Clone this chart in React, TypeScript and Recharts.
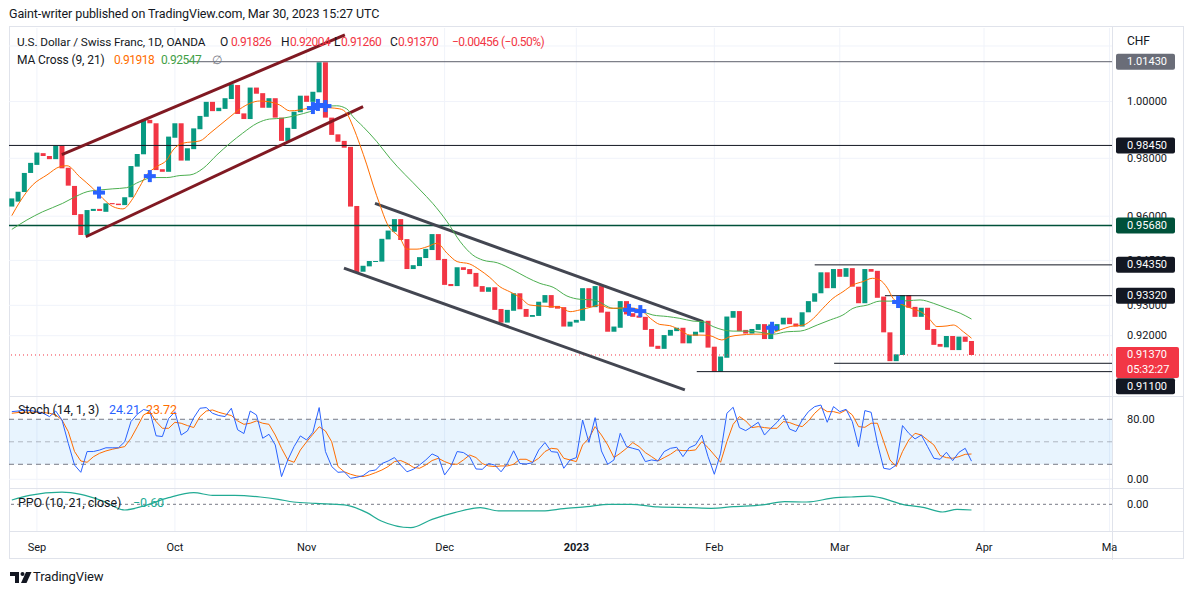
import React from "react";
import {
  ComposedChart,
  Bar,
  Line,
  Scatter,
  XAxis,
  YAxis,
  CartesianGrid,
  ReferenceLine,
  ReferenceArea,
} from "recharts";

// daily USD/CHF bodies, Aug 26 2022 .. Mar 30 2023
const opens = [
  0.9633, 0.965, 0.9683, 0.9749, 0.9777, 0.9818, 0.9808, 0.9797, 0.9844, 0.9767,
  0.9704, 0.9607, 0.9536, 0.9618, 0.9625, 0.9615, 0.9645, 0.9643, 0.9638, 0.9665,
  0.9771, 0.9814, 0.9935, 0.9923, 0.9762, 0.9753, 0.9872, 0.9923, 0.9792, 0.9832,
  0.9902, 0.9946, 0.9999, 0.9966, 0.9974, 1.0009, 1.0059, 0.9958, 0.9938, 1.005,
  1.003, 0.9978, 1.0012, 0.9943, 0.9861, 0.9903, 0.9962, 1.0021, 0.9999, 1.0033,
  1.0141, 0.9943, 0.9884, 0.9861, 0.984, 0.9635, 0.9412, 0.943, 0.9446, 0.9446,
  0.9521, 0.9547, 0.959, 0.9522, 0.9421, 0.9431, 0.9458, 0.9485, 0.9539, 0.9455,
  0.9371, 0.9364, 0.9427, 0.9421, 0.9408, 0.9364, 0.9345, 0.936, 0.9288, 0.9243,
  0.9282, 0.934, 0.9288, 0.9262, 0.9265, 0.9309, 0.9334, 0.9298, 0.9294, 0.923,
  0.9243, 0.9249, 0.9357, 0.9294, 0.9364, 0.9279, 0.9213, 0.9226, 0.9314, 0.9274,
  0.9266, 0.9262, 0.9222, 0.9167, 0.9157, 0.92, 0.9215, 0.9226, 0.9175, 0.92,
  0.9211, 0.9249, 0.9164, 0.9083, 0.9128, 0.9259, 0.9281, 0.9219, 0.9207, 0.9219,
  0.9238, 0.9189, 0.9215, 0.9237, 0.9259, 0.924, 0.923, 0.9277, 0.9312, 0.934,
  0.941, 0.9357, 0.9421, 0.9395, 0.9424, 0.9362, 0.9307, 0.9421, 0.9415, 0.9329,
  0.9211, 0.9117, 0.9137, 0.9334, 0.9295, 0.9262, 0.9292, 0.9222, 0.9173, 0.9162,
  0.9199, 0.9153, 0.9197, 0.91826,
];
const closes = [
  0.9661, 0.9684, 0.9749, 0.9784, 0.982, 0.9808, 0.9797, 0.9844, 0.9765, 0.9705,
  0.9604, 0.9536, 0.9621, 0.9625, 0.9618, 0.9644, 0.9641, 0.9638, 0.9665, 0.9773,
  0.9815, 0.9935, 0.9923, 0.9759, 0.9753, 0.9876, 0.9923, 0.9792, 0.9835, 0.9905,
  0.9949, 0.9999, 0.9966, 0.9978, 1.0012, 1.0062, 0.9956, 0.9938, 1.005, 1.0028,
  0.9978, 1.0012, 0.9943, 0.9861, 0.9907, 0.9964, 1.0021, 0.9999, 1.0035, 1.0141,
  0.9943, 0.9882, 0.9858, 0.9837, 0.9633, 0.941, 0.9432, 0.9448, 0.9448, 0.9523,
  0.9551, 0.959, 0.9519, 0.9421, 0.9434, 0.9461, 0.9489, 0.9539, 0.9451, 0.9368,
  0.9364, 0.9427, 0.9418, 0.9404, 0.9362, 0.9345, 0.936, 0.9285, 0.9243, 0.9285,
  0.934, 0.9287, 0.9262, 0.9268, 0.9312, 0.9334, 0.9292, 0.9289, 0.923, 0.9246,
  0.9252, 0.9357, 0.9294, 0.9364, 0.9276, 0.9213, 0.923, 0.9314, 0.927, 0.9262,
  0.9259, 0.9219, 0.9164, 0.9157, 0.9202, 0.9219, 0.9226, 0.9175, 0.9202, 0.9213,
  0.9249, 0.9161, 0.9083, 0.9132, 0.9263, 0.9281, 0.9215, 0.9207, 0.9222, 0.9238,
  0.9189, 0.9237, 0.9238, 0.9259, 0.9238, 0.923, 0.9277, 0.9314, 0.934, 0.941,
  0.9357, 0.9421, 0.9395, 0.9424, 0.9362, 0.9307, 0.9421, 0.9412, 0.9325, 0.9211,
  0.9117, 0.9139, 0.9334, 0.9292, 0.9262, 0.9292, 0.9219, 0.917, 0.9164, 0.9199,
  0.9153, 0.9197, 0.918, 0.9137,
];

// [bar index, price] read along the two moving averages
const ma9: [number, number][] = [
  [0, 0.9602], [1.3, 0.965], [3.3, 0.9707], [5.6, 0.9742], [7.7, 0.9771], [8.8, 0.9774],
  [10.8, 0.9736], [12.9, 0.9696], [14.5, 0.9661], [16.1, 0.9633], [17.7, 0.9625],
  [19.3, 0.9661], [20.4, 0.9702], [21.5, 0.9742], [23.1, 0.9771], [24.7, 0.9794],
  [25.7, 0.9829], [27.3, 0.9853], [30, 0.9861], [31.6, 0.9888], [33.2, 0.9917],
  [34.8, 0.9946], [36.4, 0.9974], [38, 0.9994], [39.5, 1.0002], [41.1, 0.9999],
  [42.7, 0.9988], [44.3, 0.9967], [45.9, 0.997], [47.2, 0.9976], [48.6, 0.9982],
  [50.7, 0.9978], [52.3, 0.9974], [53.4, 0.9958], [54.4, 0.9911], [55.5, 0.9847],
  [56.6, 0.9777], [57.6, 0.9707], [58.7, 0.9638], [59.8, 0.9576], [61.9, 0.9525],
  [63, 0.9488], [64.6, 0.9488], [66.2, 0.9496], [67.8, 0.9508], [69.4, 0.9474],
  [71, 0.9446], [73, 0.9438], [74.6, 0.9418], [76.2, 0.9393], [77.8, 0.9362],
  [79.4, 0.9345], [81, 0.9327], [82.6, 0.9301], [84.2, 0.9298], [85.8, 0.9296],
  [87.4, 0.9294], [89, 0.9279], [90.6, 0.9285], [92.7, 0.9296], [93.8, 0.9301],
  [95.4, 0.929], [98.1, 0.9292], [100.2, 0.9285], [101.8, 0.9257], [103.3, 0.9237],
  [104.9, 0.9233], [106.5, 0.9219], [108.1, 0.9202], [109.7, 0.9202], [111.3, 0.92],
  [113.2, 0.9186], [114.5, 0.9197], [116.1, 0.9202], [118.2, 0.9205], [120.4, 0.9205],
  [122.5, 0.9219], [124.1, 0.923], [126.2, 0.9235], [127.8, 0.9257], [129.3, 0.929],
  [130.9, 0.9323], [132.5, 0.9345], [134.1, 0.9368], [135.7, 0.9379], [137.2, 0.939],
  [138.4, 0.9384], [139.6, 0.9357], [140.5, 0.9323], [142.1, 0.9301], [143.7, 0.9288],
  [145.3, 0.9274], [146.4, 0.9252], [147.5, 0.923], [149.1, 0.9232], [150.1, 0.9235],
  [151.7, 0.9213], [153, 0.91918],
];
const ma21: [number, number][] = [
  [0, 0.9555], [2.4, 0.9587], [4.9, 0.9615], [8.1, 0.9644], [9.6, 0.9661], [12, 0.9684],
  [14, 0.969], [16.1, 0.9694], [18.3, 0.9698], [20.4, 0.9719], [22.5, 0.9733],
  [24.7, 0.9733], [26.8, 0.974], [28.4, 0.9742], [30.5, 0.9765], [32.7, 0.9812],
  [34.8, 0.9853], [36.8, 0.9888], [39.1, 0.9923], [41.1, 0.9938], [43.2, 0.9941],
  [45.5, 0.9952], [47.5, 0.9964], [49.6, 0.9982], [51.8, 0.9985], [53.4, 0.9974],
  [54.4, 0.9946], [56, 0.9911], [58.2, 0.9858], [60.3, 0.98], [65.1, 0.969],
  [67.1, 0.9644], [69.4, 0.9581], [71.5, 0.9513], [73.5, 0.9468], [75.1, 0.9451],
  [77.4, 0.9442], [79.9, 0.9418], [82.1, 0.9393], [84.2, 0.9373], [86.3, 0.936],
  [88.5, 0.9331], [90.6, 0.932], [92.7, 0.9318], [95.9, 0.929], [98.1, 0.9288],
  [100.2, 0.9281], [102.2, 0.9268], [104.5, 0.9263], [106.5, 0.9257], [108.6, 0.9248],
  [110.2, 0.9246], [111.8, 0.923], [113.4, 0.9219], [115, 0.9215], [117.2, 0.9215],
  [119.3, 0.9211], [121.4, 0.9205], [123.6, 0.9213], [125.7, 0.9215], [128.4, 0.9235],
  [130.5, 0.9252], [132.5, 0.9268], [134.1, 0.929], [136.4, 0.9301], [138.4, 0.9314],
  [140.5, 0.9314], [142.7, 0.9315], [144.8, 0.9318], [146.9, 0.9307], [149.1, 0.929],
  [151.2, 0.9274], [153, 0.92547],
];
const crosses: [number, number][] = [
  [13.9, 0.9681], [22, 0.9738], [48, 0.9977], [48.8, 0.9988], [50, 0.9984],
  [98.4, 0.9285], [100.2, 0.9281], [121.2, 0.9226], [141.3, 0.9311],
];

const stochK = [
  90.2, 91, 92.4, 91.6, 90, 88, 83.6, 91, 79, 48, 19, 9.3, 37, 37, 39, 42, 42, 42, 50, 77,
  86.7, 93, 91, 58, 57, 81, 90, 59, 64.4, 82, 94.7, 95.6, 88, 85, 83.6, 94.7, 66, 61, 91,
  85.8, 54.7, 60, 45.8, 3.6, 25.8, 43.6, 57.8, 52.4, 62.7, 95.6, 37, 17, 9.3, 10, 1.3,
  2.7, 4.9, 11, 12.4, 21, 24.4, 29, 19, 10, 13.3, 19, 25.8, 33.8, 30, 5.8, 17, 37, 35.6,
  30, 13.8, 13.3, 21, 19, 10, 21, 38, 21, 20.4, 22, 39, 49, 36.9, 36, 14.7, 25.8, 28.9,
  79, 49.3, 82.2, 37.8, 20, 25.8, 61.3, 43.6, 41.3, 39.1, 23.6, 25.8, 24.4, 36.9, 41.3,
  42.7, 30.2, 42.2, 45.8, 59, 30.2, 6.7, 34.7, 88, 96, 68.9, 64.9, 70.2, 76, 59, 68, 76,
  85.8, 67, 63.6, 79, 90.2, 96.9, 99, 76, 96.9, 90.2, 93.3, 76.9, 43.6, 91.6, 89.3, 48,
  14.7, 13.3, 19, 71.6, 61.3, 53.8, 59, 43.6, 28, 26.7, 36, 24.9, 36, 41.3, 24.21,
];
const stochD = [
  88, 89, 89.3, 89.3, 89.3, 89, 88, 85.8, 79, 63.6, 37, 24.4, 22.7, 30, 34.7, 37.8, 40,
  41.8, 43.6, 54.7, 70, 85.8, 90, 77, 68, 68, 76, 74.7, 71.6, 69, 83.6, 91, 92.4, 89.3, 87,
  85, 77.8, 73.3, 74.7, 77.8, 74.7, 73.3, 59, 41.3, 25.8, 22.7, 39, 50, 60, 70, 64.4, 50,
  17, 10, 6.7, 4.4, 3.6, 5.8, 8.9, 12.4, 17, 23.6, 25, 21.3, 16, 14.7, 19, 25, 28, 23.6,
  20.4, 20, 25.8, 32.4, 29, 21, 17.8, 17, 17.8, 17.8, 20, 26.7, 26.7, 22.7, 28, 37, 41.3,
  40.4, 28, 25.8, 23.6, 45.8, 54.7, 70.2, 59, 45.8, 28.9, 34.7, 41.3, 48.9, 43.6, 35.6,
  30.2, 24.4, 28.9, 33.3, 39.1, 38.2, 38.2, 39.1, 50.2, 42.2, 32.4, 22.7, 50.2, 73.3,
  83.6, 77.8, 68.9, 70.2, 68.9, 68, 68, 76.9, 75.6, 72.4, 70.2, 77.8, 88, 95.6, 90.2, 90.2,
  88, 92.4, 85.8, 70.2, 69.3, 74.7, 74.7, 50.2, 25.8, 16.9, 36.9, 52.4, 61.3, 59, 52.4,
  45.8, 31.6, 28.9, 28, 30.2, 33.3, 33.72,
];
const ppo: [number, number][] = [
  [0, 0.45], [2.8, 0.94], [8, 1.29], [11, 1.05], [14.5, 0.35], [18, -0.6], [21, -0.18],
  [25, 0.7], [29, 1.22], [32, 0.94], [35.5, 0.94], [39.6, 0.77], [42.5, 0.52], [44.9, 0.24],
  [48.4, 0.1], [53, -0.07], [56.6, -0.88], [58.9, -1.76], [63.6, -2.46], [67, -1.58],
  [70.6, -0.88], [74.7, -0.35], [77.6, -0.7], [84.6, -0.7], [88, -0.46], [91.7, -0.25],
  [95.2, 0], [98.7, 0], [103, -0.28], [108, -0.35], [111.5, -0.42], [115, -0.25],
  [119.7, -0.07], [123.2, 0.28], [126.7, 0.24], [131.4, 0.7], [133.8, 0.77], [136.7, 0.87],
  [138.4, 0.7], [142, 0], [145.5, -0.35], [148.4, -0.81], [150.7, -0.53], [153, -0.6],
];

// drawn horizontal levels: price and the bar they start from
const levelPrices = [1.0143, 0.9845, 0.9568, 0.9435, 0.9332, 0.911, 0.9083];
const levelStarts = [28, -0.45, -0.45, 128, 139.2, 131.1, 109.2];
const lastPrice = 0.9137;
const countdown = "05:32:27";

// channels: [[bar, price], [bar, price]]
const risingChannel: [number, number][][] = [
  [[7.97, 0.9813], [53.1, 1.024]],
  [[11.8, 0.953], [56, 0.9982]],
];
const fallingChannel: [number, number][][] = [
  [[57.9, 0.9644], [110.2, 0.9246]],
  [[52.95, 0.9424], [107.3, 0.9024]],
];

const monthTicks = [4, 26, 47, 69, 90, 112, 132, 155, 175];
const monthLabels = ["Sep", "Oct", "Nov", "Dec", "2023", "Feb", "Mar", "Apr", "Ma"];
const priceGrid = [1.02, 1.0, 0.98, 0.96, 0.945, 0.93, 0.92];
const priceLabels = [1.0, 0.98, 0.96, 0.945, 0.93, 0.92];

const UP = "#089981";
const DOWN = "#f23645";
const TEXT = "#131722";
const FONT = "Roboto, sans-serif";
const W = 1194;
const LEFT = 9;
const AXIS_W = 82;
const X_DOMAIN: [number, number] = [-0.45, 175.4];
const levelColors = ["#6a6d78", "#131722", "#00513a", "#131722", "#131722", "#131722", "#131722"];

const candles = opens.map((o, k) => ({
  i: k,
  body: [Math.min(o, closes[k]), Math.max(o, closes[k])],
  up: closes[k] >= o,
}));
const stochRows = stochK.map((k, j) => ({ i: j, k, d: stochD[j] }));
const toRows = (pts: [number, number][]) => pts.map(([i, v]) => ({ i, v }));

// the library centres each body on its bar; draw it 5px wide around that centre
const Candle = (p: any) => {
  const mid = p.x + p.width / 2;
  return (
    <rect
      x={mid - 2.5}
      y={p.y}
      width={5}
      height={Math.max(p.height, 1)}
      fill={p.payload.up ? UP : DOWN}
    />
  );
};

const CrossMark = (p: any) => (
  <g fill="#2962ff">
    <rect x={p.cx - 6} y={p.cy - 2} width={12} height={4} />
    <rect x={p.cx - 2} y={p.cy - 6} width={4} height={12} />
  </g>
);

const PriceTick = (props: any) => {
  const { x, y, payload } = props;
  const v = payload.value;
  if (Math.abs(v - lastPrice) < 1e-7) {
    return (
      <g fontFamily={FONT} fontSize={11}>
        <rect x={x + 4} y={y - 8} width={63} height={31} rx={2} fill={DOWN} />
        <text x={x + 15} y={y} dominantBaseline="central" fill="#fff">{v.toFixed(5)}</text>
        <text x={x + 15} y={y + 15} dominantBaseline="central" fill="#fff">{countdown}</text>
      </g>
    );
  }
  const li = levelPrices.findIndex((p, k) => k < 6 && Math.abs(p - v) < 1e-7);
  if (li >= 0) {
    const dy = li === 5 ? 23 : 0;
    return (
      <g fontFamily={FONT} fontSize={11}>
        <rect x={x + 4} y={y + dy - 8} width={59} height={16} rx={2} fill={levelColors[li]} />
        <text x={x + 15} y={y + dy} dominantBaseline="central" fill="#fff">{v.toFixed(5)}</text>
      </g>
    );
  }
  return (
    <text x={x + 15} y={y} dominantBaseline="central" fill={TEXT} fontFamily={FONT} fontSize={11}>
      {v.toFixed(5)}
    </text>
  );
};

const PlainTick = (digits: number) => (props: any) => (
  <text
    x={props.x + 15}
    y={props.y}
    dominantBaseline="central"
    fill={TEXT}
    fontFamily={FONT}
    fontSize={11}
  >
    {props.payload.value.toFixed(digits)}
  </text>
);

const DateTick = (props: any) => {
  const k = monthTicks.indexOf(props.payload.value);
  const label = monthLabels[k];
  return (
    <text
      x={props.x}
      y={props.y + 14}
      textAnchor="middle"
      dominantBaseline="central"
      fill={TEXT}
      fontFamily={FONT}
      fontSize={11}
      fontWeight={label === "2023" ? 700 : 400}
    >
      {label}
    </text>
  );
};

const abs = (left: number, top: number): React.CSSProperties => ({
  position: "absolute",
  left,
  top,
});

// one legend text placed at a left offset
const Txt = ({
  x,
  y,
  color = TEXT,
  size = 12.5,
  tight = false,
  children,
}: {
  x: number;
  y: number;
  color?: string;
  size?: number;
  tight?: boolean;
  children: React.ReactNode;
}) => (
  <div
    style={{
      position: "absolute",
      left: x,
      top: y,
      fontFamily: FONT,
      fontSize: size,
      letterSpacing: tight ? -0.5 : -0.1,
      color,
      whiteSpace: "pre",
      lineHeight: "14px",
    }}
  >
    {children}
  </div>
);

export default function App() {
  const xAxis = (
    <XAxis type="number" dataKey="i" domain={X_DOMAIN} allowDataOverflow hide />
  );
  return (
    <div
      style={{
        position: "fixed",
        left: 0,
        top: 0,
        width: W,
        height: 595,
        background: "#fff",
        overflow: "hidden",
      }}
    >
      <Txt x={9} y={7}>Gaint-writer published on TradingView.com, Mar 30, 2023 15:27 UTC</Txt>

      {/* frame and pane separators */}
      <div
        style={{
          position: "absolute",
          left: 9,
          top: 26,
          width: 1175,
          height: 533,
          border: "1px solid #e0e3eb",
          boxSizing: "border-box",
        }}
      />
      <div style={{ ...abs(1112, 26), width: 1, height: 534, background: "#e0e3eb" }} />
      <div style={{ ...abs(9, 396), width: 1175, height: 1, background: "#e0e3eb" }} />
      <div style={{ ...abs(9, 488), width: 1175, height: 1, background: "#e0e3eb" }} />
      <div style={{ ...abs(9, 531), width: 1175, height: 1, background: "#e0e3eb" }} />

      {/* price pane */}
      <div style={abs(0, 28)}>
        <ComposedChart
          width={W}
          height={368}
          data={candles}
          margin={{ top: 0, right: 0, bottom: 0, left: LEFT }}
        >
          <CartesianGrid
            stroke="#f0f3fa"
            horizontalValues={priceGrid}
            verticalValues={monthTicks}
          />
          {xAxis}
          <YAxis
            type="number"
            scale="log"
            domain={[0.90045, 1.02655]}
            allowDataOverflow
            orientation="right"
            width={AXIS_W}
            ticks={[...priceLabels, ...levelPrices.slice(0, 6), lastPrice]}
            interval={0}
            tick={<PriceTick />}
            tickLine={false}
            axisLine={false}
            tickSize={0}
            tickMargin={0}
          />
          {levelPrices.map((p, k) => (
            <ReferenceLine
              key={"lv" + k}
              segment={[
                { x: levelStarts[k], y: p },
                { x: X_DOMAIN[1], y: p },
              ]}
              stroke={k === 2 ? "#00513a" : k === 0 ? "#5d606b" : "#131722"}
              strokeWidth={k === 2 ? 1.5 : 1}
            />
          ))}
          <ReferenceLine
            y={lastPrice}
            stroke={DOWN}
            strokeDasharray="1 3"
            strokeWidth={1}
          />
          {risingChannel.map((seg, k) => (
            <ReferenceLine
              key={"rc" + k}
              segment={seg.map(([x, y]) => ({ x, y }))}
              stroke="#801922"
              strokeWidth={3}
            />
          ))}
          {fallingChannel.map((seg, k) => (
            <ReferenceLine
              key={"fc" + k}
              segment={seg.map(([x, y]) => ({ x, y }))}
              stroke="#434651"
              strokeWidth={3}
            />
          ))}
          <Bar dataKey="body" barSize={5} shape={Candle} isAnimationActive={false} />
          <Line
            data={toRows(ma21)}
            dataKey="v"
            type="monotone"
            stroke="#4caf50"
            strokeWidth={1}
            dot={false}
            isAnimationActive={false}
          />
          <Line
            data={toRows(ma9)}
            dataKey="v"
            type="monotone"
            stroke="#ff6d00"
            strokeWidth={1}
            dot={false}
            isAnimationActive={false}
          />
          <Scatter
            data={toRows(crosses)}
            dataKey="v"
            shape={CrossMark}
            isAnimationActive={false}
          />
        </ComposedChart>
      </div>

      {/* stochastic pane */}
      <div style={abs(0, 397)}>
        <ComposedChart
          width={W}
          height={91}
          data={stochRows}
          margin={{ top: 0, right: 0, bottom: 0, left: LEFT }}
        >
          <CartesianGrid stroke="#f0f3fa" horizontalValues={[0]} verticalValues={monthTicks} />
          {xAxis}
          <YAxis
            type="number"
            domain={[-11.6, 109.7]}
            allowDataOverflow
            orientation="right"
            width={AXIS_W}
            ticks={[80, 0]}
            interval={0}
            tick={PlainTick(2)}
            tickLine={false}
            axisLine={false}
            tickSize={0}
            tickMargin={0}
          />
          <ReferenceArea y1={20} y2={80} fill="#2196f3" fillOpacity={0.1} stroke="none" />
          <ReferenceLine y={80} stroke="#787b86" strokeDasharray="5 4" />
          <ReferenceLine y={50} stroke="#787b86" strokeOpacity={0.5} strokeDasharray="5 4" />
          <ReferenceLine y={20} stroke="#787b86" strokeDasharray="5 4" />
          <Line
            dataKey="d"
            stroke="#ff6d00"
            strokeWidth={1}
            dot={false}
            isAnimationActive={false}
          />
          <Line
            dataKey="k"
            stroke="#2962ff"
            strokeWidth={1}
            dot={false}
            isAnimationActive={false}
          />
        </ComposedChart>
      </div>

      {/* PPO pane with the time axis */}
      <div style={abs(0, 489)}>
        <ComposedChart
          width={W}
          height={71}
          margin={{ top: 0, right: 0, bottom: 0, left: LEFT }}
        >
          <CartesianGrid stroke="#f0f3fa" horizontal={false} verticalValues={monthTicks} />
          <XAxis
            type="number"
            dataKey="i"
            domain={X_DOMAIN}
            allowDataOverflow
            ticks={monthTicks}
            interval={0}
            tick={<DateTick />}
            tickLine={false}
            axisLine={false}
            tickSize={0}
            height={29}
          />
          <YAxis
            type="number"
            domain={[-2.81, 1.61]}
            allowDataOverflow
            orientation="right"
            width={AXIS_W}
            ticks={[0]}
            interval={0}
            tick={PlainTick(2)}
            tickLine={false}
            axisLine={false}
            tickSize={0}
            tickMargin={0}
          />
          <ReferenceLine y={0} stroke="#787b86" strokeDasharray="3 3" />
          <Line
            data={toRows(ppo)}
            dataKey="v"
            type="monotone"
            stroke="#22ab94"
            strokeWidth={1.2}
            dot={false}
            isAnimationActive={false}
          />
        </ComposedChart>
      </div>

      {/* legends */}
      <Txt x={17} y={35} size={11.8}>U.S. Dollar / Swiss Franc, 1D, OANDA</Txt>
      <Txt x={220} y={35} size={12}>O</Txt>
      <Txt x={231} y={35} size={12} color={DOWN} tight>0.91826</Txt>
      <Txt x={281} y={35} size={12}>H</Txt>
      <Txt x={290} y={35} size={12} color={DOWN} tight>0.92004</Txt>
      <Txt x={334} y={35} size={12}>L</Txt>
      <Txt x={341} y={35} size={12} color={DOWN} tight>0.91260</Txt>
      <Txt x={390} y={35} size={12}>C</Txt>
      <Txt x={398} y={35} size={12} color={DOWN} tight>0.91370</Txt>
      <Txt x={452} y={35} size={12} color={DOWN} tight>−0.00456 (−0.50%)</Txt>

      <Txt x={17} y={53} size={12}>MA Cross (9, 21)</Txt>
      <Txt x={114} y={53} size={12} color="#ff6d00" tight>0.91918</Txt>
      <Txt x={161} y={53} size={12} color="#43a047" tight>0.92547</Txt>
      <Txt x={212} y={53} size={12} color="#787b86">∅</Txt>

      <Txt x={1127} y={34} size={12}>CHF</Txt>

      <Txt x={18} y={403}>Stoch (14, 1, 3)</Txt>
      <Txt x={109} y={403} color="#2962ff">24.21</Txt>
      <Txt x={146} y={403} color="#ff6d00">23.72</Txt>

      <Txt x={18} y={496}>PPO (10, 21, close)</Txt>
      <Txt x={133} y={496} color="#22ab94">−0.60</Txt>

      {/* footer logo */}
      <svg style={abs(10, 572)} width={22} height={11} viewBox="0 0 22 11">
        <path d="M0 0h9v11H5V4H0z" fill={TEXT} />
        <circle cx={12.5} cy={2} r={2} fill={TEXT} />
        <path d="M16 0h5.5l-5 11H11z" fill={TEXT} />
      </svg>
      <Txt x={33} y={570} size={13}>TradingView</Txt>
    </div>
  );
}
